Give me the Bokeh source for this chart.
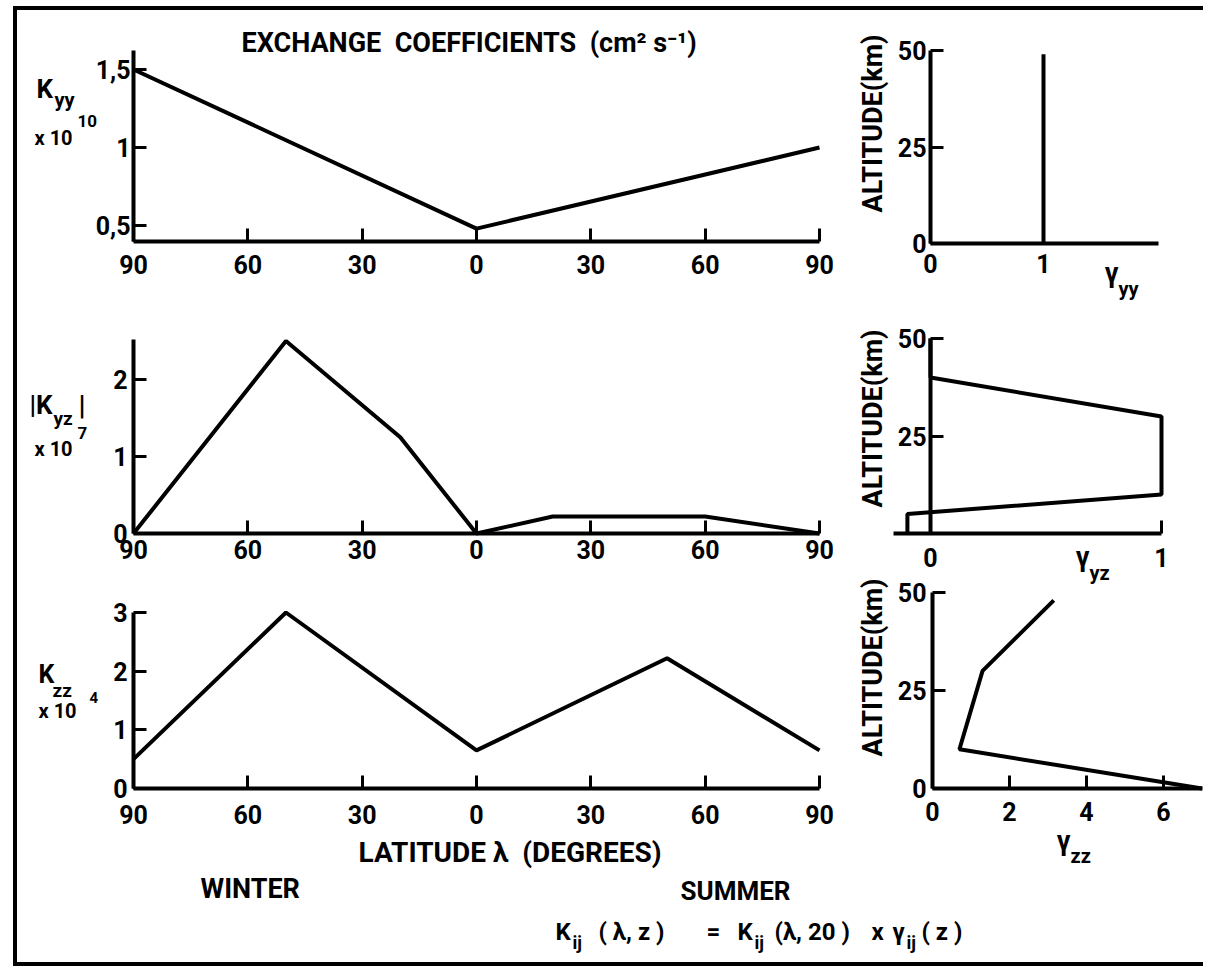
import math
from bokeh.plotting import figure
from bokeh.models import Label, FixedTicker, Range1d, LinearAxis
from bokeh.layouts import column
from bokeh.embed import file_html
from bokeh.resources import INLINE

# ---------------- data ----------------
lat_ticks = [-90, -60, -30, 0, 30, 60, 90]
lat_tick_labels = ["90", "60", "30", "0", "30", "60", "90"]

kyy_lat = [-90, 0, 90]
kyy_val = [1.5, 0.48, 1.0]
kyy_ticks = [0.5, 1, 1.5]
kyy_tick_labels = ["0,5", "1", "1,5"]

kyz_lat = [-90, -50, -20, 0, 20, 60, 90]
kyz_val = [0, 2.5, 1.25, 0, 0.22, 0.22, 0]
kyz_ticks = [0, 1, 2]

kzz_lat = [-90, -50, 0, 50, 90]
kzz_val = [0.5, 3.0, 0.65, 2.22, 0.65]
kzz_ticks = [0, 1, 2, 3]

alt_ticks = [0, 25, 50]
alt_ticks_mid = [25, 50]

gyy_alt = [0, 49]
gyy_val = [1, 1]
gyy_ticks = [0, 1]

gyz_alt = [0, 5, 10, 30, 40, 50]
gyz_val = [-0.1, -0.1, 1, 1, 0, 0]
gyz_ticks = [0, 1]

gzz_alt = [0, 10, 30, 48]
gzz_val = [7, 0.7, 1.3, 3.15]
gzz_ticks = [0, 2, 4, 6]

FONT = "Roboto"
NB = "\u00a0"

# ---------------- page geometry (pixels) ----------------
W, H = 1186, 952          # figure size
OX, OY = 17, 10           # page position of the figure (inside the border)


def xr_from(v1, p1, v2, p2):
    f1, f2 = p1 - OX, p2 - OX
    s = (v2 - v1) / (f2 - f1)
    start = v1 - f1 * s
    return Range1d(start, start + W * s)


def yr_from(v1, p1, v2, p2):
    f1, f2 = p1 - OY, p2 - OY
    s = (v2 - v1) / (f1 - f2)
    start = v1 - (H - f1) * s
    return Range1d(start, start + H * s)


p = figure(width=W, height=H, x_range=Range1d(0, W), y_range=Range1d(H, 0),
           x_axis_location=None, y_axis_location=None,
           output_backend="svg", toolbar_location=None,
           min_border_left=0, min_border_right=0, min_border_top=0, min_border_bottom=0)
p.outline_line_color = None
p.grid.visible = False
p.background_fill_color = "white"
p.border_fill_color = "white"

# panel scales: two reference values and their page pixel positions
p.extra_x_ranges = {
    "tl_x": xr_from(-90, 133, 90, 819),
    "ml_x": xr_from(-90, 133, 90, 819),
    "bl_x": xr_from(-90, 133, 90, 819),
    "tr_x": xr_from(0, 930, 1, 1043),
    "mr_x": xr_from(0, 930, 1, 1161),
    "br_x": xr_from(0, 932, 6, 1163),
}
p.extra_y_ranges = {
    "tl_y": yr_from(0.5, 225, 1.5, 69),
    "ml_y": yr_from(0, 533, 2, 379),
    "bl_y": yr_from(0, 788, 3, 612),
    "tr_y": yr_from(0, 243, 50, 50),
    "mr_y": yr_from(0, 533, 50, 338),
    "br_y": yr_from(0, 788, 50, 592),
}


def style_axis(ax, ticks, labels, standoff):
    ax.ticker = FixedTicker(ticks=ticks)
    if labels is not None:
        ax.major_label_overrides = {t: s for t, s in zip(ticks, labels)}
    ax.axis_line_width = 4
    ax.axis_line_color = "black"
    ax.major_tick_line_width = 3
    ax.major_tick_line_color = "black"
    ax.major_tick_in = 13
    ax.major_tick_out = 0
    ax.minor_tick_line_color = None
    ax.major_label_text_font = FONT
    ax.major_label_text_font_size = "25px"
    ax.major_label_text_font_style = "bold"
    ax.major_label_text_color = "black"
    ax.major_label_standoff = standoff


def panel(name, xs, ys, xticks, xlabels, x_at, x_bounds, x_standoff,
          yticks, ylabels, y_at, y_bounds, y_standoff):
    xn, yn = name + "_x", name + "_y"
    p.line(xs, ys, x_range_name=xn, y_range_name=yn, line_width=4, line_color="black")
    xa = LinearAxis(x_range_name=xn, y_range_name=yn, fixed_location=x_at, bounds=x_bounds)
    style_axis(xa, xticks, xlabels, x_standoff)
    p.add_layout(xa, "below")
    ya = LinearAxis(x_range_name=xn, y_range_name=yn, fixed_location=y_at, bounds=y_bounds)
    style_axis(ya, yticks, ylabels, y_standoff)
    p.add_layout(ya, "left")


panel("tl", kyy_lat, kyy_val, lat_ticks, lat_tick_labels, 0.4, (-90, 90), 14,
      kyy_ticks, kyy_tick_labels, -90, (0.4, 1.62), 3)
panel("ml", kyz_lat, kyz_val, lat_ticks, lat_tick_labels, 0, (-90, 90), 6,
      kyz_ticks, None, -90, (0, 2.52), 6)
panel("bl", kzz_lat, kzz_val, lat_ticks, lat_tick_labels, 0, (-90, 90), 16,
      kzz_ticks, None, -90, (0, 3), 6)
panel("tr", gyy_val, gyy_alt, gyy_ticks, None, 0, (0, 2.02), 10,
      alt_ticks, None, 0, (0, 50), 4)
panel("mr", gyz_val, gyz_alt, gyz_ticks, None, 0, (-0.16, 1.0), 14,
      alt_ticks_mid, None, 0, (0, 50), 4)
panel("br", gzz_val, gzz_alt, gzz_ticks, None, 0, (0, 7), 13,
      alt_ticks, None, 0, (0, 50), 6)


def txt(px, py, text, size, bold=True, align="left", angle=0.0):
    p.add_layout(Label(x=px - OX, y=py - OY, text=text, text_font=FONT,
                       text_font_size=f"{size}px",
                       text_font_style="bold" if bold else "normal", text_color="black",
                       text_align=align, text_baseline="middle", angle=angle))


# title and left-hand quantity labels
txt(241, 42, f"EXCHANGE{NB}{NB}COEFFICIENTS{NB}{NB}(cm² s⁻¹)", 27)
txt(36, 88, "K", 26)
txt(54, 99, "yy", 20)
txt(34, 137, "x 10", 20)
txt(77, 120, "10", 17)

txt(29, 404, "|K", 26)
txt(53, 418, "yz", 19)
txt(78, 405, "|", 28)
txt(34, 448, "x 10", 20)
txt(77, 432, "7", 17)

txt(38, 674, "K", 25)
txt(52, 690, "zz", 19)
txt(38, 710, "x 10", 20)
txt(89, 697, "4", 15)

# bottom texts
txt(358, 852, f"LATITUDE λ{NB}{NB}(DEGREES)", 28)
txt(200, 888, "WINTER", 27)
txt(680, 890, "SUMMER", 26)
MAIN, SUB = 24, 18
txt(555, 931, "K", MAIN)
txt(572, 942, "ij", SUB)
txt(598, 931, "( λ, z )", MAIN)
txt(706, 931, "=", MAIN)
txt(737, 931, "K", MAIN)
txt(754, 942, "ij", SUB)
txt(774, 931, "(λ, 20 )", MAIN)
txt(871, 931, "x", MAIN)
txt(892, 931, "γ", MAIN)
txt(906, 942, "ij", SUB)
txt(921, 931, "( z )", MAIN)

# right-hand panel labels
for cy in (123, 418, 667):
    txt(872, cy, "ALTITUDE(km)", 27, align="center", angle=math.pi / 2)
txt(1118, 272, "γ", 27, align="right")
txt(1118, 288, "yy", 20)
txt(1089, 556, "γ", 27, align="right")
txt(1089, 572, "yz", 20)
txt(1070, 840, "γ", 27, align="right")
txt(1070, 855, "zz", 20)

root = column(p, styles={"border-left": "4px solid black", "border-top": "4px solid black",
                         "border-bottom": "4px solid black", "margin-left": "13px",
                         "margin-top": "6px"})

open("out.html", "w").write(file_html(root, INLINE, title="Exchange coefficients"))
